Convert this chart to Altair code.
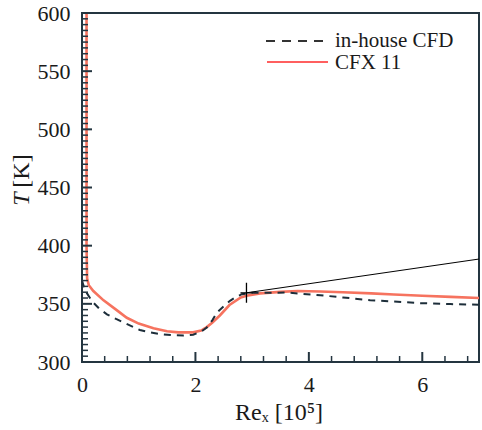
import altair as alt
import pandas as pd

# ---- data ----
cfx_x = [0.08, 0.08, 0.09, 0.12, 0.2, 0.38, 0.6, 0.79, 1.0, 1.26, 1.5, 1.7, 1.96, 2.1, 2.2, 2.3,
         2.43, 2.6, 2.8, 2.9, 3.14, 3.5, 3.8, 4.2, 4.6, 5.1, 5.5, 6.0, 6.5, 7.0]
cfx_t = [600, 400, 372, 366, 361, 353, 345, 338, 333, 329, 326.5, 325.5, 325.5, 327, 330, 334,
         340, 349, 355.5, 357, 359, 360.3, 361, 360.6, 360, 359, 358, 357, 356, 355]

cfd_x = [0.0, 0.05, 0.17, 0.3, 0.44, 0.6, 0.73, 1.02, 1.2, 1.38, 1.6, 1.79, 1.96, 2.1, 2.2, 2.3,
         2.38, 2.5, 2.61, 2.72, 2.82, 3.0, 3.3, 3.61, 4.2, 4.6, 5.08, 5.5, 5.96, 6.5, 7.0]
cfd_t = [370, 362, 352.6, 346, 341, 337, 334, 327.5, 325.5, 324, 323, 322.8, 323.5, 326, 329.7, 336,
         342.6, 348, 352.6, 356, 358.3, 359.5, 359.5, 359.7, 357.4, 355.5, 353.1, 352, 350.6, 349.8, 349.2]

guide_x = [2.9, 7.0]
guide_t = [359.5, 388.5]
marker_x = [2.9]
marker_t = [359.5]

x_major = [0, 2, 4, 6]
x_minor = [0.4, 0.8, 1.2, 1.6, 2.4, 2.8, 3.2, 3.6, 4.4, 4.8, 5.2, 5.6, 6.4, 6.8]
y_major = [300, 350, 400, 450, 500, 550, 600]
y_minor = [v for v in range(305, 600, 5) if v % 50 != 0]

legend_labels = ["in-house CFD", "CFX 11"]
x_title = "Reₓ [10⁵]"
y_title_var = "T"
y_title_unit = "[K]"

# ---- styling ----
W, H = 397, 349
FONT = "Liberation Serif"
AX = "#243540"
TXT = "#1a1a1a"

df_cfx = pd.DataFrame({"x": cfx_x, "t": cfx_t, "i": range(len(cfx_x))})
df_cfd = pd.DataFrame({"x": cfd_x, "t": cfd_t, "i": range(len(cfd_x))})
df_guide = pd.DataFrame({"x": guide_x, "t": guide_t})
df_marker = pd.DataFrame({"x": marker_x, "t": marker_t})

xs = alt.Scale(domain=[0, 7], nice=False, zero=False)
ys = alt.Scale(domain=[300, 600], nice=False, zero=False)

XAX = alt.Axis(values=x_major, format="d", ticks=False, domain=False, grid=False, labelFont=FONT,
               labelFontSize=22, labelColor=TXT, labelPadding=12, title=None, labelFlush=False)
YAX = alt.Axis(values=y_major, format="d", ticks=False, domain=False, grid=False, labelFont=FONT,
               labelFontSize=22, labelColor=TXT, labelPadding=12, title=None, labelFlush=False)


def X(field):
    return alt.X(field, scale=xs, axis=XAX)


def Y(field):
    return alt.Y(field, scale=ys, axis=YAX)


red = alt.Chart(df_cfx).mark_line(color="#f6735f", strokeWidth=2.6, clip=True).encode(
    x=X("x:Q"), y=Y("t:Q"), order=alt.Order("i:Q"))

dashed = alt.Chart(df_cfd).mark_line(color="#1d2e3a", strokeWidth=2, strokeDash=[7, 6], clip=True).encode(
    x=X("x:Q"), y=Y("t:Q"), order=alt.Order("i:Q"))

guide = alt.Chart(df_guide).mark_line(color="black", strokeWidth=1).encode(x=X("x:Q"), y=Y("t:Q"))

marker = alt.Chart(df_marker).mark_point(
    shape="M0,-1V1M-0.6,0H0.6", size=400, filled=False, color="black", strokeWidth=1.3, opacity=1
).encode(x=X("x:Q"), y=Y("t:Q"))


# ---- inward ticks drawn through the scales ----
def xticks(vals, length, width):
    return alt.Chart(pd.DataFrame({"v": vals})).mark_rule(color=AX, strokeWidth=width).encode(
        x=X("v:Q"), y=alt.value(H), y2=alt.value(H - length))


def yticks(vals, length, width):
    return alt.Chart(pd.DataFrame({"v": vals})).mark_rule(color=AX, strokeWidth=width).encode(
        y=Y("v:Q"), x=alt.value(0), x2=alt.value(length))


ticks = [xticks(x_minor, 6, 1.5), xticks(x_major, 10, 2), yticks(y_minor, 6, 1.5), yticks(y_major, 10, 2)]

# ---- legend (inside, top right) ----
leg1 = pd.DataFrame({"label": [legend_labels[0]]})
leg2 = pd.DataFrame({"label": [legend_labels[1]]})
leg_rule1 = alt.Chart(leg1).mark_rule(color="#333333", strokeWidth=1.8, strokeDash=[9, 7]).encode(
    x=alt.value(184), x2=alt.value(248), y=alt.value(28))
leg_rule2 = alt.Chart(leg2).mark_rule(color="#ff2a2a", strokeWidth=1.6).encode(
    x=alt.value(185), x2=alt.value(246), y=alt.value(49))
leg_text1 = alt.Chart(leg1).mark_text(align="left", baseline="middle", font=FONT, fontSize=21,
                                       color=TXT).encode(x=alt.value(253), y=alt.value(28), text="label:N")
leg_text2 = alt.Chart(leg2).mark_text(align="left", baseline="middle", font=FONT, fontSize=21,
                                       color=TXT).encode(x=alt.value(253), y=alt.value(50), text="label:N")

# ---- axis titles ----
xt = alt.Chart(pd.DataFrame({"s": [x_title]})).mark_text(
    align="center", baseline="alphabetic", font=FONT, fontSize=24, color=TXT
).encode(x=alt.value(197), y=alt.value(407), text="s:N")
yt1 = alt.Chart(pd.DataFrame({"s": [y_title_var]})).mark_text(
    align="center", baseline="middle", font=FONT, fontSize=24, fontStyle="italic", angle=270, color=TXT
).encode(x=alt.value(-60), y=alt.value(186), text="s:N")
yt2 = alt.Chart(pd.DataFrame({"s": [y_title_unit]})).mark_text(
    align="center", baseline="middle", font=FONT, fontSize=24, angle=270, color=TXT
).encode(x=alt.value(-60), y=alt.value(158), text="s:N")

chart = alt.layer(
    red, dashed, guide, marker, *ticks,
    leg_rule1, leg_rule2, leg_text1, leg_text2, xt, yt1, yt2
).properties(
    width=W, height=H,
    padding={"left": 82, "top": 13, "right": 3, "bottom": 68},
    autosize=alt.AutoSizeParams(type="none"),
    background="white",
).configure_view(
    stroke=AX, strokeWidth=2
).configure_axis(
    labelFont=FONT, labelFontSize=22, labelColor=TXT
).configure_text(
    font=FONT
)

chart.save("out.html", embed_options={"renderer": "svg", "actions": False})
